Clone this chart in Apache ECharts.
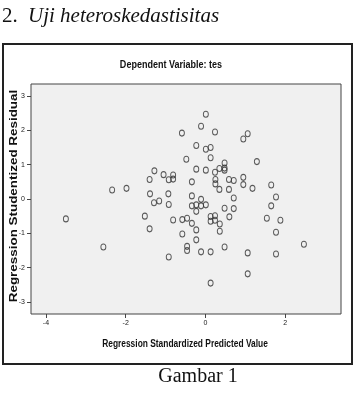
<!DOCTYPE html>
<html><head><meta charset="utf-8">
<script src="https://cdn.jsdelivr.net/npm/echarts@6/dist/echarts.min.js"></script>
<style>html,body{margin:0;padding:0;background:#fff}#c{width:360px;height:404px}</style>
</head><body><div id="c"></div>
<script>
// Regression Standardized Predicted Value (x) and Studentized Residual (y)
const predicted = [-3.50,-2.56,-2.34,-1.98,-1.52,-1.40,-1.39,-1.40,-1.28,-1.29,-1.16,-1.05,-0.92,-0.93,-0.92,-0.92,-0.81,-0.81,-0.81,-0.59,-0.58,-0.58,-0.48,-0.46,-0.46,-0.46,-0.34,-0.34,-0.34,-0.34,-0.23,-0.23,-0.23,-0.23,-0.23,-0.23,-0.11,-0.11,-0.11,-0.11,0.01,0.01,0.01,0.01,0.13,0.13,0.13,0.13,0.13,0.13,0.24,0.24,0.25,0.25,0.24,0.24,0.35,0.35,0.36,0.36,0.48,0.48,0.48,0.48,0.48,0.59,0.59,0.60,0.71,0.71,0.71,0.95,0.95,0.95,1.06,1.06,1.06,1.18,1.29,1.54,1.65,1.65,1.77,1.77,1.77,1.88,2.47];
const residual = [-0.58,-1.40,0.26,0.31,-0.50,0.57,0.15,-0.87,0.82,-0.11,-0.06,0.71,0.56,0.15,-0.16,-1.69,0.70,0.58,-0.61,1.92,-0.60,-1.02,1.16,-0.56,-1.38,-1.50,0.50,0.09,-0.20,-0.71,1.56,0.87,-0.17,-0.36,-0.90,-1.19,2.12,-0.01,-0.20,-1.54,2.47,1.45,0.84,-0.17,1.50,1.20,-0.51,-0.65,-1.54,-2.45,1.95,0.78,0.57,0.44,-0.49,-0.62,0.89,0.28,-0.73,-0.94,1.05,0.90,0.84,-0.27,-1.40,0.57,0.28,-0.52,0.54,0.03,-0.28,1.75,0.63,0.42,1.90,-1.57,-2.18,0.31,1.09,-0.56,0.41,-0.20,0.06,-0.97,-1.60,-0.62,-1.32];
const xTicks = [-4,-2,0,2];
const yTicks = [-3,-2,-1,0,1,2,3];
const heading = "Uji heteroskedastisitas";
const chartTitle = "Dependent Variable: tes";
const xName = "Regression Standardized Predicted Value";
const yName = "Regression Studentized Residual";
const caption = "Gambar 1";

const points = predicted.map((v,i)=>[v,residual[i]]);
const sans = "'Liberation Sans',Arial,sans-serif";
const chart = echarts.init(document.getElementById('c'), null, {renderer:'canvas'});
chart.setOption({
  animation:false,
  backgroundColor:'#fff',
  graphic:[
    {type:'rect',shape:{x:3,y:44,width:349,height:320},style:{fill:'none',stroke:'#222',lineWidth:2},z:-1},
    {type:'text',x:2,y:6,style:{text:'2.',font:"21px 'Liberation Serif'",fill:'#111'}},
    {type:'text',x:28,y:6,style:{text:heading,font:"italic 21px 'Liberation Serif'",fill:'#111'}},
    {type:'text',x:198,y:367,style:{text:caption,font:"20px 'Liberation Serif'",fill:'#111',textAlign:'center'}},
    {type:'text',x:171,y:65,scaleX:0.82,style:{text:chartTitle,font:"bold 11px "+sans,fill:'#111',textAlign:'center',textVerticalAlign:'middle'}},
    {type:'text',x:185,y:344,scaleX:0.84,style:{text:xName,font:"bold 10px "+sans,fill:'#111',textAlign:'center',textVerticalAlign:'middle'}},
    {type:'text',x:14,y:196,rotation:Math.PI/2,scaleX:1.22,style:{text:yName,font:"bold 11px "+sans,fill:'#111',textAlign:'center',textVerticalAlign:'middle'}}
  ],
  grid:{left:31,top:84,width:310,height:230,outerBoundsMode:'none',containLabel:false,show:true,backgroundColor:'#f0f0f0',borderColor:'#444',borderWidth:1},
  xAxis:{type:'value',min:-4.375,max:3.4,
    axisLine:{show:false,onZero:false},splitLine:{show:false},
    axisTick:{show:true,length:4,customValues:xTicks,lineStyle:{color:'#444'}},
    axisLabel:{customValues:xTicks,margin:6,fontFamily:sans,fontSize:7,color:'#222'}},
  yAxis:{type:'value',min:-3.35,max:3.35,
    axisLine:{show:false,onZero:false},splitLine:{show:false},
    axisTick:{show:true,length:4,customValues:yTicks,lineStyle:{color:'#444'}},
    axisLabel:{customValues:yTicks,margin:6,fontFamily:sans,fontSize:7,color:'#222'}},
  series:[{type:'scatter',data:points,
    symbol:'path://M0,-6A4,6,0,1,1,0,6A4,6,0,1,1,0,-6Z',symbolSize:[5,6],
    itemStyle:{color:'rgba(0,0,0,0)',borderColor:'#333',borderWidth:1}}]
});
</script></body></html>
